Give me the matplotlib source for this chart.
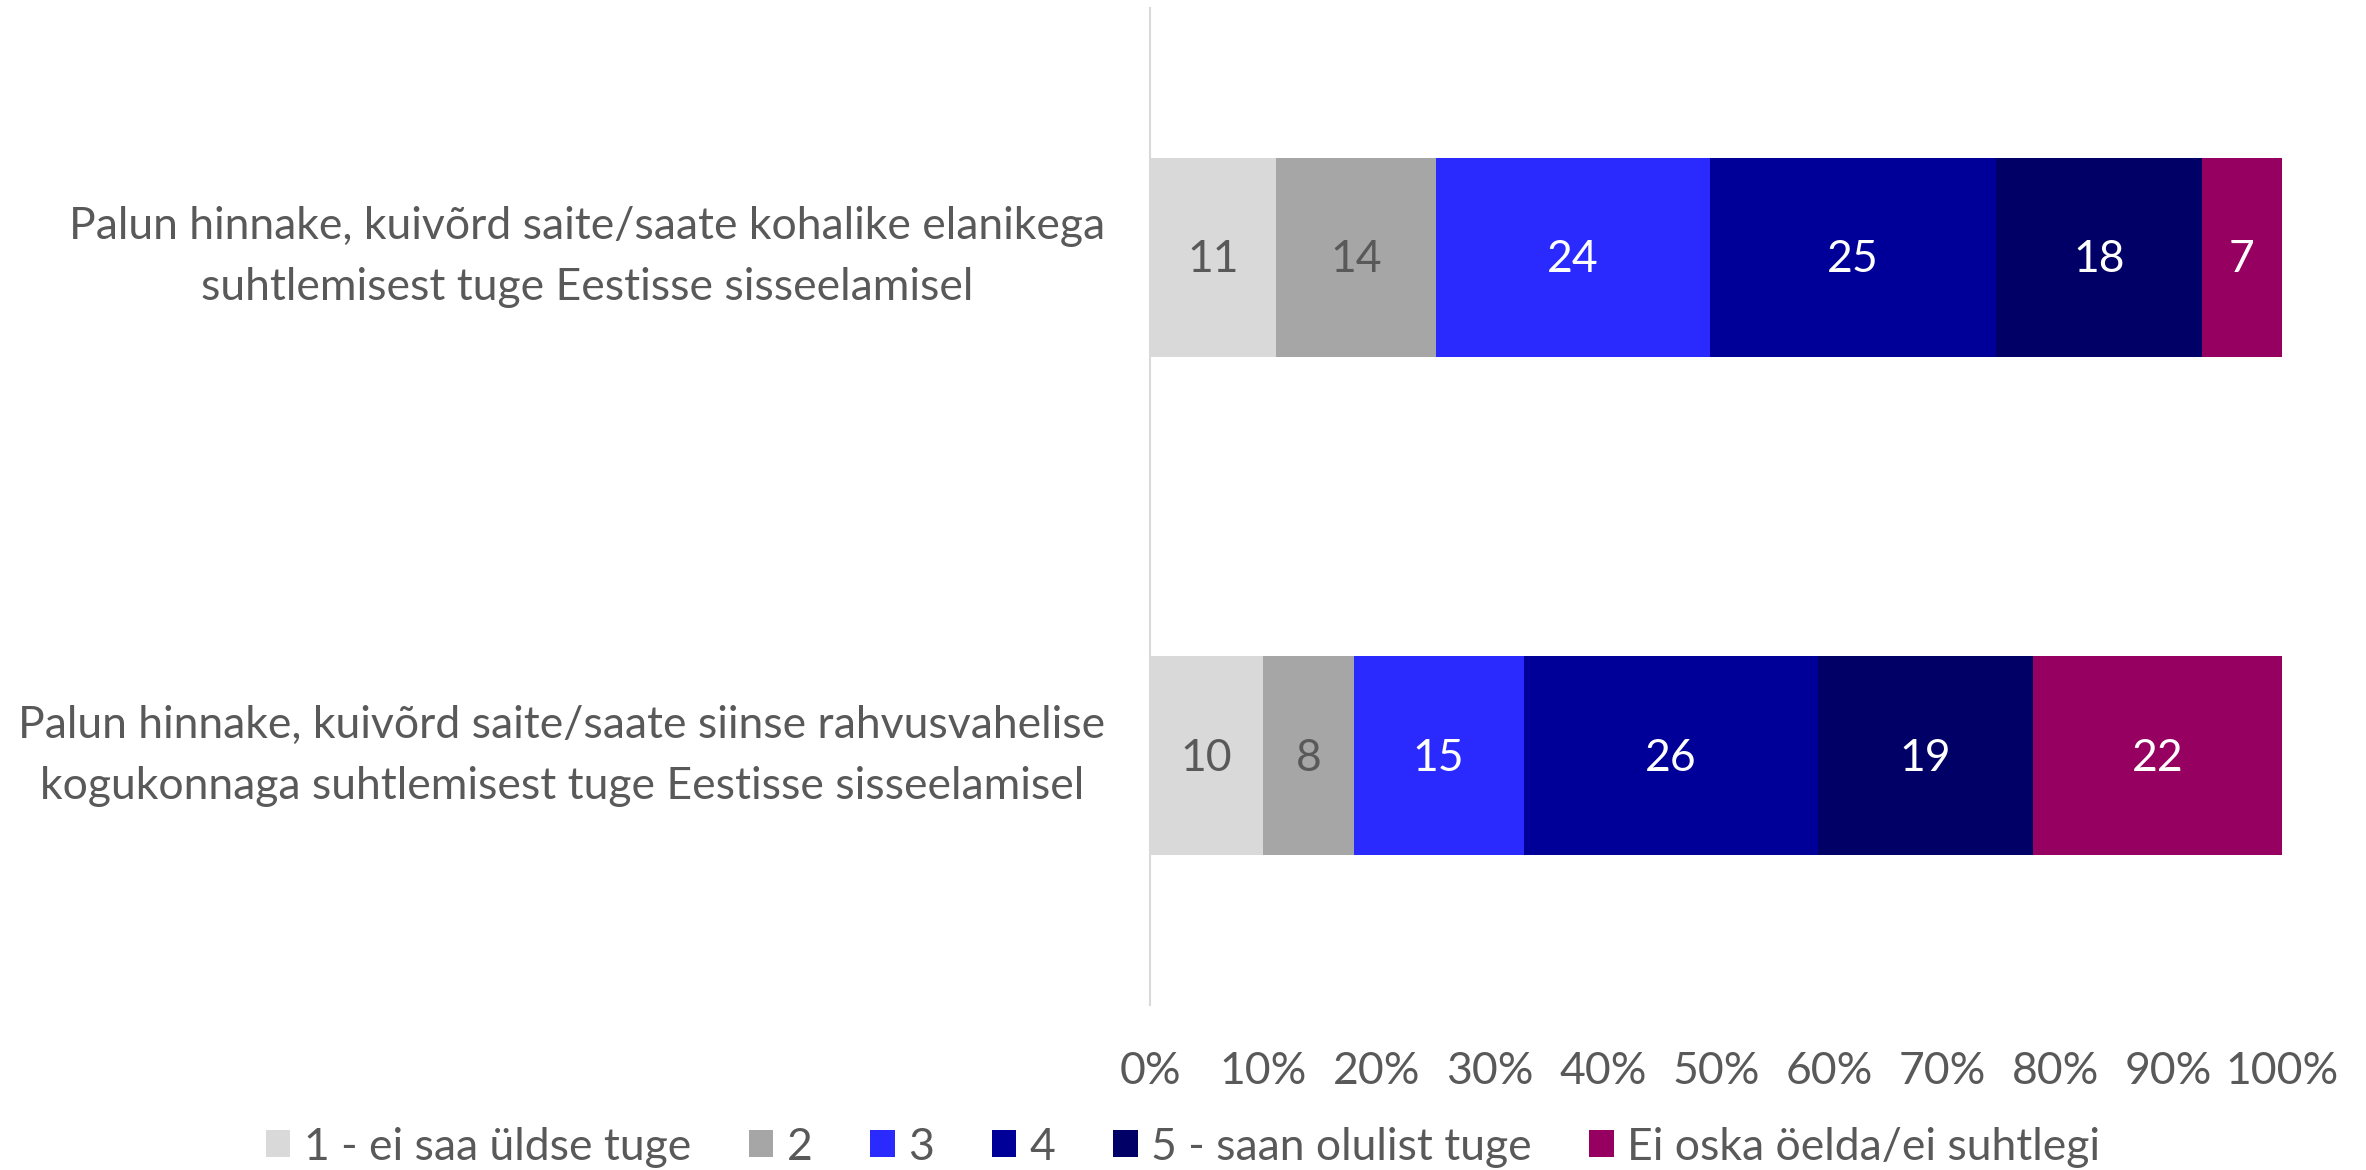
import matplotlib
matplotlib.use("Agg")
import matplotlib.pyplot as plt
import numpy as np

categories = [
    "Palun hinnake, kuivõrd saite/saate kohalike elanikega\nsuhtlemisest tuge Eestisse sisseelamisel",
    "Palun hinnake, kuivõrd saite/saate siinse rahvusvahelise\nkogukonnaga suhtlemisest tuge Eestisse sisseelamisel",
]
series_names = ["1 - ei saa üldse tuge", "2", "3", "4", "5 - saan olulist tuge", "Ei oska öelda/ei suhtlegi"]
values = {
    "1 - ei saa üldse tuge": [11, 10],
    "2": [14, 8],
    "3": [24, 15],
    "4": [25, 26],
    "5 - saan olulist tuge": [18, 19],
    "Ei oska öelda/ei suhtlegi": [7, 22],
}
colors = ["#D9D9D9", "#A6A6A6", "#2A2AFF", "#000099", "#000066", "#960060"]
label_colors = ["#595959", "#595959", "white", "white", "white", "white"]
xtick_labels = ["0%", "10%", "20%", "30%", "40%", "50%", "60%", "70%", "80%", "90%", "100%"]

plt.rcParams['font.family'] = ['Lato', 'DejaVu Sans']
FS = 32

fig = plt.figure(figsize=(23.66, 11.7), dpi=100)
ax = fig.add_axes([1150/2366, 1 - 1005/1170, (2282-1150)/2366, (1005-8)/1170])

data = np.array([values[s] for s in series_names], dtype=float)
totals = data.sum(axis=0)
pct = data / totals * 100
y = np.arange(len(categories))
left = np.zeros(len(categories))
handles = []
for i, s in enumerate(series_names):
    b = ax.barh(y, pct[i], left=left, height=0.4, color=colors[i], label=s)
    handles.append(b)
    for j in range(len(categories)):
        ax.text(left[j] + pct[i][j] / 2, y[j] + 0.005, f"{int(data[i][j])}", ha='center', va='center',
                color=label_colors[i], fontsize=FS)
    left += pct[i]

ax.set_xlim(0, 100)
ax.set_ylim(1.5, -0.5)
ax.set_xticks(np.arange(0, 101, 10))
ax.set_xticklabels(xtick_labels, color="#595959", fontsize=FS)
ax.set_yticks(y)
ax.set_yticklabels(categories, color="#595959", fontsize=FS, multialignment='center', linespacing=1.6)
for lbl in ax.get_yticklabels():
    lbl.set_verticalalignment('center')
ax.tick_params(axis='both', length=0)
ax.tick_params(axis='y', pad=32)
ax.tick_params(axis='x', pad=33)
for sp in ['top', 'right', 'bottom']:
    ax.spines[sp].set_visible(False)
ax.spines['left'].set_color('#D9D9D9')
ax.spines['left'].set_linewidth(1.5)

leg = fig.legend(handles=handles, labels=series_names, loc='center', bbox_to_anchor=(0.5, 1 - 1147/1170),
                 ncol=6, frameon=False, fontsize=FS, handlelength=0.55, handleheight=0.55,
                 handletextpad=0.3, columnspacing=1.3, labelcolor="#595959")

fig.savefig("out.png", dpi=100)
